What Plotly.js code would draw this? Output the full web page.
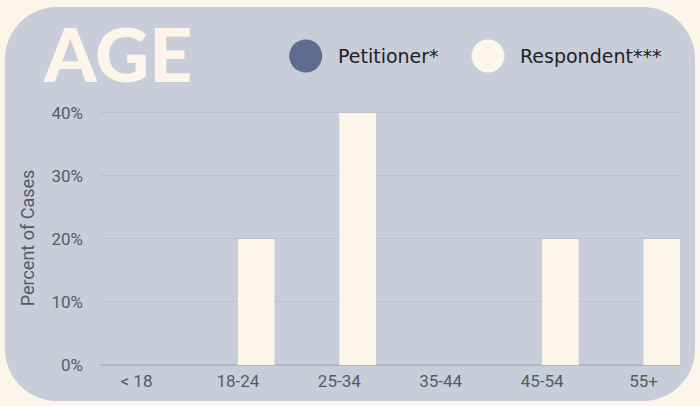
<!DOCTYPE html>
<html>
<head>
<meta charset="utf-8">
<script src="https://cdn.plot.ly/plotly-3.0.1.min.js"></script>
<style>
  html, body { margin: 0; padding: 0; background: #fdf4ea; }
  #wrap { position: relative; width: 700px; height: 406px; overflow: hidden; }
  #box { position: absolute; left: 5px; top: 7px; width: 690px; height: 394px;
         border-radius: 52px; background: #c9cdd9; }
  #chart { position: absolute; left: 0; top: 0; width: 700px; height: 406px; }
</style>
</head>
<body>
<div id="wrap"><div id="box"></div><div id="chart"></div></div>
<script>
const categories = ['< 18', '18-24', '25-34', '35-44', '45-54', '55+'];
const petitioner = [0, 0, 0, 0, 0, 0];
const respondent = [0, 20, 40, 0, 20, 20];
const yTickVals = [0, 10, 20, 30, 40];
const yTickText = ['0%', '10%', '20%', '30%', '40%'];
const seriesNames = ['Petitioner*', 'Respondent***'];

const W = 700, H = 406;
const M = {l: 100, r: 20, t: 111, b: 41};
const pw = W - M.l - M.r, ph = H - M.t - M.b;
const px = x => (x - M.l) / pw;
const py = y => (H - M.b - y) / ph;

const colP = '#5e6d8d', colR = '#fdf4ea';
const tickFont = {family: 'Roboto, sans-serif', size: 17, color: '#575b66'};

const traces = [
  {type: 'bar', name: seriesNames[0], x: categories, y: petitioner, marker: {color: colP}, showlegend: false, hoverinfo: 'skip'},
  {type: 'bar', name: seriesNames[1], x: categories, y: respondent, marker: {color: colR}, showlegend: false, hoverinfo: 'skip'}
];

const r = 16.5;
function circle(cx, cy, color) {
  return {type: 'circle', xref: 'paper', yref: 'paper',
    x0: px(cx - r), x1: px(cx + r), y0: py(cy + r), y1: py(cy - r),
    fillcolor: color, line: {width: 0}};
}
const legendFont = {family: '"DejaVu Sans", sans-serif', size: 19, color: '#222222'};

const layout = {
  width: W, height: H,
  margin: M,
  paper_bgcolor: 'rgba(0,0,0,0)',
  plot_bgcolor: 'rgba(0,0,0,0)',
  barmode: 'group', bargap: 0.278, bargroupgap: 0,
  showlegend: false,
  title: {text: 'AGE', x: 44 / W, xanchor: 'left', xref: 'container', y: 1 - 56 / H, yanchor: 'middle', yref: 'container',
    font: {family: 'Lato, sans-serif', size: 75, weight: 900, color: '#fdf4ea'}},
  xaxis: {type: 'category', range: [-0.36, 5.36], showgrid: false, zeroline: false, showline: false,
    ticks: '', tickfont: tickFont, ticklabelstandoff: 4, fixedrange: true},
  yaxis: {range: [0, 40.3], tickvals: yTickVals, ticktext: yTickText, showgrid: true, gridcolor: '#bdc1cd', gridwidth: 1,
    zeroline: true, zerolinecolor: '#b3b7c3', zerolinewidth: 1.5, showline: false, ticks: '',
    tickfont: tickFont, ticklabelstandoff: 16,
    title: {text: 'Percent of Cases', font: {family: 'Roboto, sans-serif', size: 18, color: '#575b66'}, standoff: 12},
    fixedrange: true},
  shapes: [circle(305.7, 56, colP), circle(488, 56, colR)],
  annotations: [
    {xref: 'paper', yref: 'paper', x: px(336), y: py(56), xanchor: 'left', yanchor: 'middle', showarrow: false, text: seriesNames[0], font: legendFont},
    {xref: 'paper', yref: 'paper', x: px(518), y: py(56), xanchor: 'left', yanchor: 'middle', showarrow: false, text: seriesNames[1], font: legendFont}
  ]
};

Plotly.newPlot('chart', traces, layout, {displayModeBar: false, staticPlot: true});
</script>
</body>
</html>
